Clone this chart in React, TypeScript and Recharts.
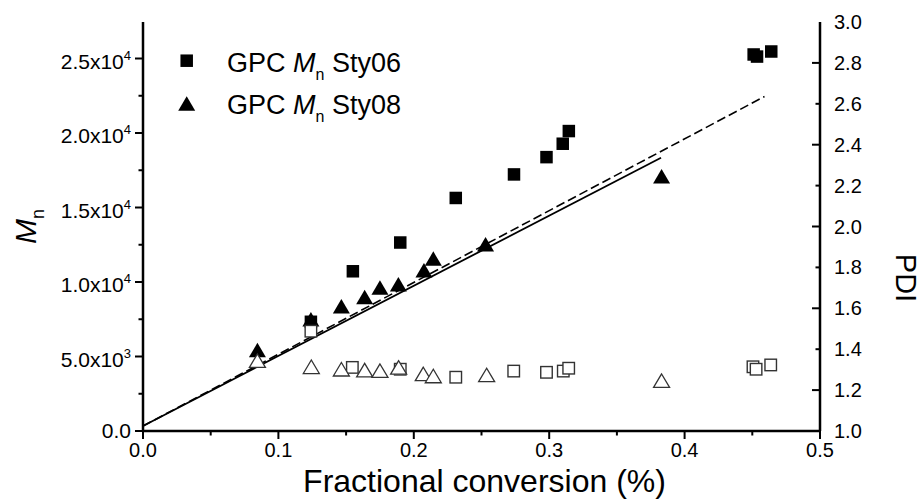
import React from 'react';
import { ComposedChart, Scatter, Line, XAxis, YAxis, Legend } from 'recharts';

// ---- data ----
const sty06Conv = [0.124, 0.155, 0.19, 0.231, 0.274, 0.298, 0.31, 0.3145, 0.451, 0.4535, 0.464];
const sty06Mn = [7330, 10720, 12650, 15640, 17220, 18380, 19280, 20130, 25270, 25130, 25470];
const sty06PdiConv = [0.124, 0.1546, 0.19, 0.231, 0.2738, 0.298, 0.3104, 0.3144, 0.4505, 0.4528, 0.4636];
const sty06Pdi = [1.488, 1.311, 1.302, 1.263, 1.293, 1.287, 1.293, 1.307, 1.314, 1.302, 1.323];

const sty08Conv = [0.0845, 0.124, 0.1465, 0.1637, 0.175, 0.1886, 0.2075, 0.2144, 0.253, 0.383];
const sty08Mn = [5430, 7500, 8380, 9000, 9630, 9850, 10790, 11570, 12530, 17090];
const sty08PdiConv = [0.0845, 0.1243, 0.1465, 0.1637, 0.175, 0.1888, 0.207, 0.2144, 0.2538, 0.383];
const sty08Pdi = [1.344, 1.314, 1.302, 1.298, 1.295, 1.311, 1.279, 1.269, 1.274, 1.246];

const fitSolidConv = [0, 0.3826];
const fitSolidMn = [335, 18340];
const fitDashConv = [0, 0.459];
const fitDashMn = [335, 22450];

const X_TICKS = [0, 0.05, 0.1, 0.15, 0.2, 0.25, 0.3, 0.35, 0.4, 0.45, 0.5];
const MN_TICKS = [0, 2500, 5000, 7500, 10000, 12500, 15000, 17500, 20000, 22500, 25000];
const PDI_TICKS = [1.0, 1.2, 1.4, 1.6, 1.8, 2.0, 2.2, 2.4, 2.6, 2.8, 3.0];
const PDI_MAJOR = [1.2, 1.6, 2.0, 2.4, 2.8];

const LEGEND_LABELS = ['Sty06', 'Sty08'];

const zip = (xs: number[], ys: number[]) => xs.map((x, i) => ({ x, y: ys[i] }));

const FONT = '"Liberation Sans", Arial, Helvetica, sans-serif';

// ---- shapes ----
const FilledSquare = (p: any) => {
  const s = 12.5;
  return <rect x={p.cx - s / 2} y={p.cy - s / 2} width={s} height={s} fill="#000" />;
};
const OpenSquare = (p: any) => {
  const s = 11.5;
  return <rect x={p.cx - s / 2} y={p.cy - s / 2} width={s} height={s} fill="#fff" stroke="#333" strokeWidth={1.4} />;
};
const triPts = (cx: number, cy: number, w: number, h: number) =>
  `${cx},${cy - h / 2} ${cx - w / 2},${cy + h / 2} ${cx + w / 2},${cy + h / 2}`;
const FilledTri = (p: any) => <polygon points={triPts(p.cx, p.cy, 17, 14.5)} fill="#000" />;
const OpenTri = (p: any) => (
  <polygon points={triPts(p.cx, p.cy, 16, 13.5)} fill="#fff" stroke="#333" strokeWidth={1.3} strokeLinejoin="miter" />
);

// ---- ticks ----
const fmtMn = (v: number) => {
  if (v === 0) return { m: '0.0', e: '' };
  const e = Math.floor(Math.log10(v) + 1e-9);
  return { m: (v / Math.pow(10, e)).toFixed(1) + 'x10', e: String(e) };
};

const LeftTick = (props: any) => {
  const { x, y, payload } = props;
  const v = payload.value;
  const major = v % 5000 === 0;
  const len = major ? 8 : 4.5;
  const f = fmtMn(v);
  return (
    <g>
      <line x1={x - len} y1={y} x2={x} y2={y} stroke="#000" strokeWidth={2} />
      {major && (
        <text x={x - 12} y={y + (f.e ? 10 : 7)} textAnchor="end" fontSize={21} fontFamily={FONT} fill="#000">
          {f.m}
          {f.e && (
            <tspan fontSize={13} dy={-9}>
              {f.e}
            </tspan>
          )}
        </text>
      )}
    </g>
  );
};

const RightTick = (props: any) => {
  const { x, y, payload } = props;
  const v = payload.value;
  const major = PDI_MAJOR.some((m) => Math.abs(m - v) < 1e-6);
  const edge = Math.abs(v - 1) < 1e-6 || Math.abs(v - 3) < 1e-6;
  const len = major ? 8 : 4.5;
  return (
    <g>
      {!edge && <line x1={x - len} y1={y} x2={x} y2={y} stroke="#000" strokeWidth={2} />}
      <text x={x + 14} y={y + 7} textAnchor="start" fontSize={20} fontFamily={FONT} fill="#000">
        {v.toFixed(1)}
      </text>
    </g>
  );
};

const BottomTick = (props: any) => {
  const { x, y, payload } = props;
  const v = payload.value;
  const major = Math.abs(Math.round(v * 10) - v * 10) < 1e-6;
  const len = major ? 8 : 4.5;
  return (
    <g>
      <line x1={x} y1={y} x2={x} y2={y + len} stroke="#000" strokeWidth={2} />
      {major && (
        <text x={x} y={y + 26} textAnchor="middle" fontSize={20} fontFamily={FONT} fill="#000">
          {v.toFixed(1)}
        </text>
      )}
    </g>
  );
};

// ---- titles ----
const XTitle = (props: any) => {
  const vb = props.viewBox;
  return (
    <text x={vb.x + vb.width / 2 + 3} y={vb.y + 61} textAnchor="middle" fontSize={32} fontFamily={FONT} fill="#000">
      Fractional conversion (%)
    </text>
  );
};

const YLeftTitle = (props: any) => {
  const vb = props.viewBox;
  const cx = vb.x + 36;
  const cy = vb.y + vb.height / 2;
  return (
    <text x={cx} y={cy} transform={`rotate(-90, ${cx}, ${cy})`} textAnchor="middle" fontSize={30} fontFamily={FONT} fill="#000">
      <tspan fontStyle="italic">M</tspan>
      <tspan fontSize={18} dy={8}>
        n
      </tspan>
    </text>
  );
};

const YRightTitle = (props: any) => {
  const vb = props.viewBox;
  const cx = vb.x + 76;
  const cy = 278;
  return (
    <text x={cx} y={cy} transform={`rotate(90, ${cx}, ${cy})`} textAnchor="middle" fontSize={29} fontFamily={FONT} fill="#000">
      PDI
    </text>
  );
};

// ---- legend ----
const LegendContent = () => (
  <svg width={260} height={95} style={{ display: 'block', overflow: 'visible' }}>
    <rect x={16.7 - 6.25} y={22.7 - 6.25} width={12.5} height={12.5} fill="#000" />
    <polygon points={triPts(16.7, 65.5, 17, 14.5)} fill="#000" />
    {LEGEND_LABELS.map((lab, i) => (
      <text key={lab} x={57} y={33.7 + i * 42} fontSize={27} fontFamily={FONT} fill="#000">
        GPC{' '}
        <tspan fontStyle="italic">M</tspan>
        <tspan fontSize={16} dy={8}>
          n
        </tspan>
        <tspan dy={-8}> {lab}</tspan>
      </text>
    ))}
  </svg>
);

const axisLine = { stroke: '#000', strokeWidth: 2.5 };

export default function App() {
  return (
    <div style={{ position: 'absolute', left: 0, top: 0, width: 922, height: 502, background: '#fff' }}>
      <ComposedChart width={922} height={502} margin={{ top: 22, right: 0, bottom: 0, left: 0 }}>
        <XAxis
          xAxisId="b"
          dataKey="x"
          type="number"
          orientation="bottom"
          domain={[0, 0.5]}
          ticks={X_TICKS}
          interval={0}
          height={71}
          axisLine={axisLine}
          tickLine={false}
          tickSize={0}
          tickMargin={0}
          tick={(p: any) => <BottomTick {...p} />}
          label={(p: any) => <XTitle {...p} />}
        />
        <XAxis
          xAxisId="t"
          dataKey="x"
          type="number"
          orientation="top"
          domain={[0, 0.5]}
          height={0}
          axisLine={axisLine}
          tickLine={false}
          tick={false}
        />
        <YAxis
          yAxisId="mn"
          type="number"
          orientation="left"
          domain={[0, 27450]}
          ticks={MN_TICKS}
          interval={0}
          width={143}
          axisLine={axisLine}
          tickLine={false}
          tickSize={0}
          tickMargin={0}
          tick={(p: any) => <LeftTick {...p} />}
          label={(p: any) => <YLeftTitle {...p} />}
        />
        <YAxis
          yAxisId="pdi"
          type="number"
          orientation="right"
          domain={[1, 3]}
          ticks={PDI_TICKS}
          interval={0}
          width={102}
          axisLine={axisLine}
          tickLine={false}
          tickSize={0}
          tickMargin={0}
          tick={(p: any) => <RightTick {...p} />}
          label={(p: any) => <YRightTitle {...p} />}
        />
        <Legend
          layout="vertical"
          align="center"
          verticalAlign="middle"
          content={() => <LegendContent />}
          wrapperStyle={{ position: 'absolute', left: 170, top: 38, width: 260, height: 95 }}
        />
        <Line
          xAxisId="b"
          yAxisId="mn"
          data={zip(fitSolidConv, fitSolidMn)}
          dataKey="y"
          type="linear"
          stroke="#000"
          strokeWidth={1.8}
          dot={false}
          activeDot={false}
          isAnimationActive={false}
          legendType="none"
        />
        <Line
          xAxisId="b"
          yAxisId="mn"
          data={zip(fitDashConv, fitDashMn)}
          dataKey="y"
          type="linear"
          stroke="#000"
          strokeWidth={1.6}
          strokeDasharray="9 4"
          dot={false}
          activeDot={false}
          isAnimationActive={false}
          legendType="none"
        />
        <Scatter xAxisId="b" yAxisId="mn" data={zip(sty06Conv, sty06Mn)} dataKey="y" shape={(p: any) => <FilledSquare {...p} />} isAnimationActive={false} />
        <Scatter xAxisId="b" yAxisId="mn" data={zip(sty08Conv, sty08Mn)} dataKey="y" shape={(p: any) => <FilledTri {...p} />} isAnimationActive={false} />
        <Scatter xAxisId="b" yAxisId="pdi" data={zip(sty06PdiConv, sty06Pdi)} dataKey="y" shape={(p: any) => <OpenSquare {...p} />} isAnimationActive={false} />
        <Scatter xAxisId="b" yAxisId="pdi" data={zip(sty08PdiConv, sty08Pdi)} dataKey="y" shape={(p: any) => <OpenTri {...p} />} isAnimationActive={false} />
      </ComposedChart>
    </div>
  );
}
